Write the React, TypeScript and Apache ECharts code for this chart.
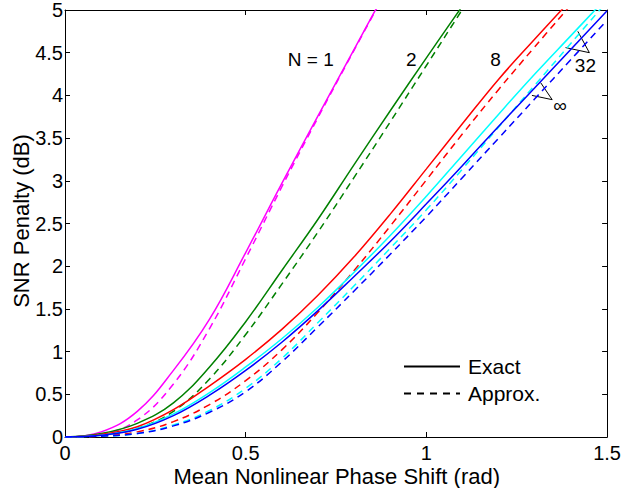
import React, { useEffect, useRef } from "react";
import * as echarts from "echarts";

// Mean nonlinear phase shift (rad) sample points
const phaseShift = [0, 0.1, 0.2, 0.3, 0.4, 0.5, 0.6, 0.7, 0.8, 0.9, 1.0, 1.1, 1.2, 1.3, 1.4, 1.5];

// SNR penalty (dB), exact and approximate, for each N
const exactN1 = [0, 0.06, 0.3, 0.78, 1.38, 2.16, 2.97, 3.76, 4.54, 5.32];
const approxN1 = [0, 0.03, 0.2, 0.62, 1.27, 2.09, 2.93, 3.74, 4.53, 5.31];
const exactN2 = [0, 0.04, 0.16, 0.4, 0.82, 1.35, 1.95, 2.55, 3.19, 3.82, 4.44, 5.05];
const approxN2 = [0, 0.02, 0.1, 0.3, 0.68, 1.2, 1.79, 2.4, 3.04, 3.69, 4.35, 5.01, 5.67];
const exactN8 = [0, 0.03, 0.12, 0.32, 0.6, 0.91, 1.26, 1.66, 2.11, 2.61, 3.14, 3.67, 4.19, 4.66, 5.12];
const approxN8 = [0, 0.01, 0.06, 0.18, 0.38, 0.66, 1.02, 1.46, 1.95, 2.47, 3.01, 3.55, 4.07, 4.57, 5.06];
const exactN32 = [0, 0.02, 0.1, 0.27, 0.52, 0.82, 1.15, 1.52, 1.93, 2.36, 2.82, 3.3, 3.78, 4.25, 4.7, 5.15];
const approxN32 = [0, 0.01, 0.04, 0.14, 0.31, 0.57, 0.92, 1.34, 1.77, 2.21, 2.66, 3.14, 3.63, 4.12, 4.61, 5.1];
const exactNInf = [0, 0.02, 0.09, 0.25, 0.49, 0.78, 1.11, 1.48, 1.88, 2.29, 2.73, 3.18, 3.64, 4.09, 4.54, 4.99];
const approxNInf = [0, 0.01, 0.04, 0.13, 0.29, 0.53, 0.88, 1.29, 1.71, 2.14, 2.58, 3.04, 3.5, 3.96, 4.42, 4.88];

const curveNames = ["N = 1", "N = 2", "N = 8", "N = 32", "N = ∞"];
const curveColors = ["#ff00ff", "#008000", "#ff0000", "#00ffff", "#0000ff"];
const exactCurves = [exactN1, exactN2, exactN8, exactN32, exactNInf];
const approxCurves = [approxN1, approxN2, approxN8, approxN32, approxNInf];

const xTicks = { min: 0, max: 1.5, interval: 0.5 };
const yTicks = { min: 0, max: 5, interval: 0.5 };

// annotation labels placed in data coordinates
const labelTexts = ["N = 1", "2", "8", "32", "∞"];
const labelAt: [number, number][] = [
  [0.68, 4.42],
  [0.958, 4.42],
  [1.191, 4.42],
  [1.44, 4.35],
  [1.37, 3.88],
];
// pointer lines (data coordinates)
const pointerLines: [number, number, number, number][] = [
  [1.451, 4.5, 1.419, 4.75],
  [1.451, 4.5, 1.385, 4.56],
  [1.348, 3.95, 1.316, 4.15],
  [1.348, 3.95, 1.292, 4.0],
];

const FONT = '"Liberation Sans", Arial, Helvetica, sans-serif';

function pairs(ys: number[]) {
  return ys.map((y, i) => [phaseShift[i], y]);
}

export default function App() {
  const ref = useRef<HTMLDivElement>(null);
  useEffect(() => {
    if (!ref.current) return;
    const chart = echarts.init(ref.current, undefined, { renderer: "svg" });
    const series: any[] = [];
    for (let i = 0; i < curveNames.length; i++) {
      series.push({
        name: curveNames[i] + " exact",
        type: "line",
        data: pairs(exactCurves[i]),
        smooth: 0.4,
        showSymbol: false,
        symbol: "none",
        clip: true,
        lineStyle: { color: curveColors[i], width: 1.5 },
        itemStyle: { color: curveColors[i] },
      });
      series.push({
        name: curveNames[i] + " approx",
        type: "line",
        data: pairs(approxCurves[i]),
        smooth: 0.4,
        showSymbol: false,
        symbol: "none",
        clip: true,
        lineStyle: { color: curveColors[i], width: 1.5, type: [7, 5] },
        itemStyle: { color: curveColors[i] },
      });
    }
    series.push({
      name: "Exact",
      type: "line",
      data: [],
      symbol: "none",
      lineStyle: { color: "#000", width: 1.5 },
      itemStyle: { color: "#000" },
    });
    series.push({
      name: "Approx.",
      type: "line",
      data: [],
      symbol: "none",
      lineStyle: { color: "#000", width: 1.5, type: [7, 6] },
      itemStyle: { color: "#000" },
    });

    const axisCommon = {
      type: "value" as const,
      axisLine: { show: true, onZero: false, lineStyle: { color: "#000", width: 1 } },
      axisTick: { show: true, inside: true, length: 5, lineStyle: { color: "#000" } },
      splitLine: { show: false },
    };

    chart.setOption({
      animation: false,
      backgroundColor: "#fff",
      textStyle: { fontFamily: FONT, color: "#000" },
      grid: { left: 65, right: 15.5, top: 9.3, bottom: 51, containLabel: false },
      xAxis: [
        {
          ...axisCommon,
          position: "bottom",
          ...xTicks,
          axisLabel: { show: true, color: "#000", fontSize: 20, fontFamily: FONT, margin: 6 },
        },
        { ...axisCommon, position: "top", ...xTicks, axisLabel: { show: false } },
      ],
      yAxis: [
        {
          ...axisCommon,
          position: "left",
          ...yTicks,
          axisLabel: { show: true, color: "#000", fontSize: 20, fontFamily: FONT, margin: 2 },
        },
        { ...axisCommon, position: "right", ...yTicks, axisLabel: { show: false } },
      ],
      legend: {
        data: ["Exact", "Approx."],
        orient: "vertical",
        left: 403,
        top: 356,
        padding: 0,
        itemWidth: 56,
        itemHeight: 14,
        itemGap: 6,
        selectedMode: false,
        itemStyle: { opacity: 0, color: "rgba(0,0,0,0)", borderWidth: 0 },
        textStyle: { fontSize: 21, fontFamily: FONT, color: "#000", padding: [0, 0, 0, 3] },
      },
      series,
    });

    const graphics: any[] = [];
    labelTexts.forEach((t, i) => {
      const p = chart.convertToPixel({ gridIndex: 0 }, labelAt[i]) as number[];
      graphics.push({
        type: "text",
        x: p[0],
        y: p[1],
        style: {
          text: t,
          fill: "#000",
          fontSize: 19,
          fontFamily: FONT,
          align: "center",
          verticalAlign: "middle",
        },
      });
    });
    pointerLines.forEach((l) => {
      const a = chart.convertToPixel({ gridIndex: 0 }, [l[0], l[1]]) as number[];
      const b = chart.convertToPixel({ gridIndex: 0 }, [l[2], l[3]]) as number[];
      graphics.push({
        type: "line",
        shape: { x1: a[0], y1: a[1], x2: b[0], y2: b[1] },
        style: { stroke: "#000", lineWidth: 1 },
      });
    });
    graphics.push({
      type: "text",
      x: 336.75,
      y: 476,
      style: {
        text: "Mean Nonlinear Phase Shift (rad)",
        fill: "#000",
        fontSize: 22,
        fontFamily: FONT,
        align: "center",
        verticalAlign: "middle",
      },
    });
    graphics.push({
      type: "text",
      x: 21,
      y: 221,
      rotation: Math.PI / 2,
      style: {
        text: "SNR Penalty (dB)",
        fill: "#000",
        fontSize: 22,
        fontFamily: FONT,
        align: "center",
        verticalAlign: "middle",
      },
    });
    chart.setOption({ graphic: graphics });

    return () => chart.dispose();
  }, []);
  return (
    <div
      ref={ref}
      style={{ position: "fixed", left: 0, top: 0, width: 624, height: 488, background: "#fff" }}
    />
  );
}
